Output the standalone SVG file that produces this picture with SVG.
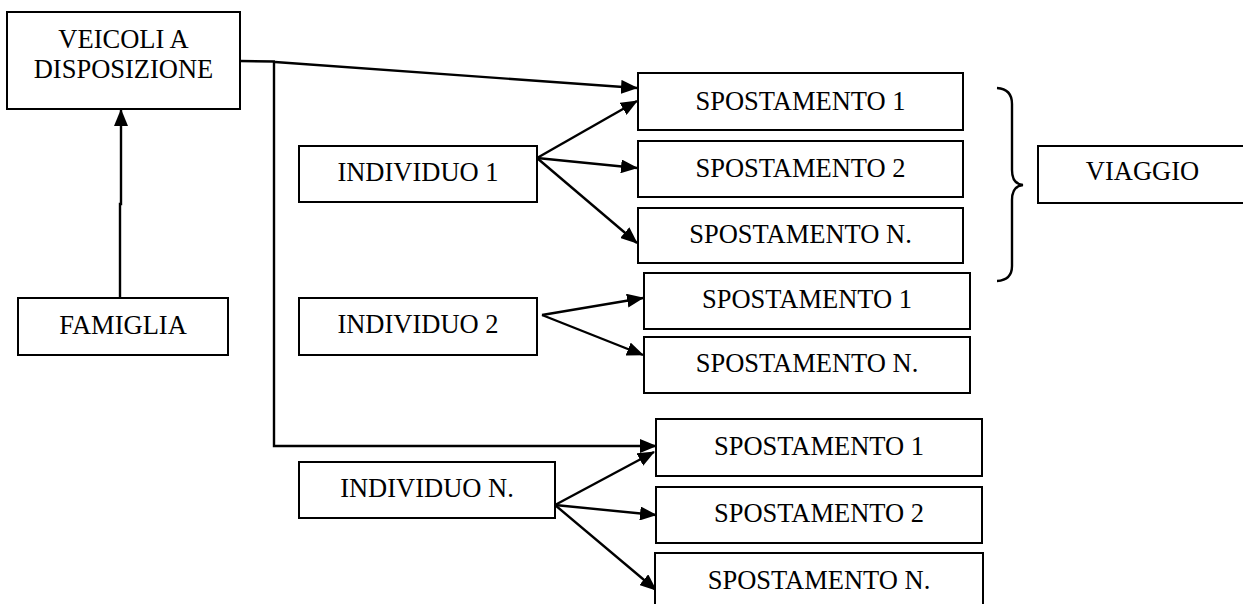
<svg xmlns="http://www.w3.org/2000/svg" width="1243" height="604" viewBox="0 0 1243 604">
<style>
.box{fill:#fff;stroke:#000;stroke-width:2}
.t{font-family:"Liberation Serif","Times New Roman",serif;font-size:26.5px;fill:#000;text-anchor:middle}
.c{fill:none;stroke:#000;stroke-width:2.4}
.a{marker-end:url(#ah)}
</style>
<defs>
<marker id="ah" markerUnits="userSpaceOnUse" markerWidth="17" markerHeight="14" refX="16" refY="7" orient="auto">
<path d="M0,0 L17,7 L0,14 z" fill="#000"/>
</marker>
</defs>
<rect x="0" y="0" width="1243" height="604" fill="#fff"/>
<g id="connectors">
<polyline class="c" points="240,61 275,61.5"/>
<line class="c a" x1="275" y1="62" x2="637" y2="88"/>
<polyline class="c a" points="274,61 274,446 656,446"/>
<polyline class="c a" points="120,298 120,204 121,204 121,110"/>
<line class="c a" x1="537" y1="158" x2="637" y2="101"/>
<line class="c a" x1="537" y1="158" x2="637" y2="168"/>
<line class="c a" x1="537" y1="158" x2="637" y2="243"/>
<line class="c a" x1="542" y1="315" x2="643" y2="298"/>
<line class="c a" x1="542" y1="315" x2="643" y2="355"/>
<line class="c a" x1="555" y1="505" x2="654" y2="452"/>
<line class="c a" x1="555" y1="505" x2="656" y2="515"/>
<line class="c a" x1="555" y1="505" x2="656" y2="590"/>
<path class="c" d="M997,88 Q1012,89 1012,104 L1012,170 Q1012,184 1023,185 Q1012,186 1012,200 L1012,266 Q1012,280 997,281" stroke-width="1.5"/>
</g>
<g id="veicoli"><rect class="box" x="7" y="12" width="233" height="97"/><text class="t" x="123.5" y="48">VEICOLI A</text><text class="t" x="123.5" y="78">DISPOSIZIONE</text></g>
<g id="famiglia"><rect class="box" x="18" y="298" width="210" height="57"/><text class="t" x="123" y="334">FAMIGLIA</text></g>
<g id="individuo1"><rect class="box" x="299" y="146" width="238" height="56"/><text class="t" x="418" y="181">INDIVIDUO 1</text></g>
<g id="individuo2"><rect class="box" x="299" y="298" width="238" height="57"/><text class="t" x="418" y="333">INDIVIDUO 2</text></g>
<g id="individuoN"><rect class="box" x="299" y="462" width="256" height="56"/><text class="t" x="427" y="497">INDIVIDUO N.</text></g>
<g id="i1s1"><rect class="box" x="638" y="73" width="325" height="57"/><text class="t" x="800.5" y="110">SPOSTAMENTO 1</text></g>
<g id="i1s2"><rect class="box" x="638" y="141" width="325" height="56"/><text class="t" x="800.5" y="177">SPOSTAMENTO 2</text></g>
<g id="i1sN"><rect class="box" x="638" y="208" width="325" height="55"/><text class="t" x="800.5" y="243">SPOSTAMENTO N.</text></g>
<g id="i2s1"><rect class="box" x="644" y="273" width="326" height="56"/><text class="t" x="807" y="308">SPOSTAMENTO 1</text></g>
<g id="i2sN"><rect class="box" x="644" y="337" width="326" height="56"/><text class="t" x="807" y="372">SPOSTAMENTO N.</text></g>
<g id="iNs1"><rect class="box" x="656" y="419" width="326" height="57"/><text class="t" x="819" y="455">SPOSTAMENTO 1</text></g>
<g id="iNs2"><rect class="box" x="656" y="487" width="326" height="56"/><text class="t" x="819" y="522">SPOSTAMENTO 2</text></g>
<g id="iNsN"><rect class="box" x="655" y="553" width="328" height="60"/><text class="t" x="819" y="589">SPOSTAMENTO N.</text></g>
<g id="viaggio"><rect class="box" x="1038" y="146" width="215" height="57"/><text class="t" x="1142.5" y="180">VIAGGIO</text></g>
</svg>
